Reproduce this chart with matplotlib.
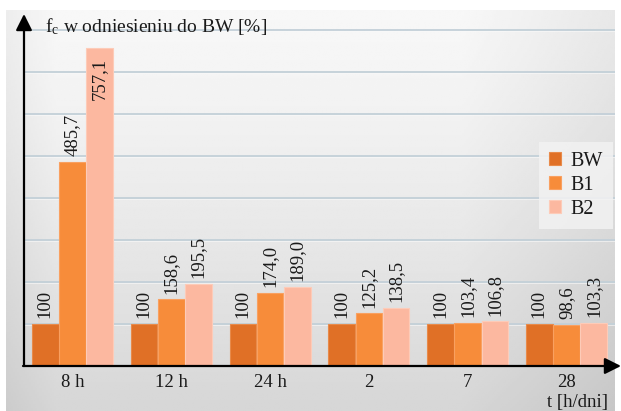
import numpy as np
import matplotlib.pyplot as plt

# fc relative to BW, per curing time
times = ["8 h", "12 h", "24 h", "2", "7", "28"]
bw = [100, 100, 100, 100, 100, 100]
b1 = [485.7, 158.6, 174.0, 125.2, 103.4, 98.6]
b2 = [757.1, 195.5, 189.0, 138.5, 106.8, 103.3]
series = ["BW", "B1", "B2"]
colors = ["#E07026", "#F78C3A", "#FCB8A0"]
edges = ["#E88A4A", "#F9A060", "#FDCBB8"]

plt.rcParams["font.family"] = "serif"
plt.rcParams["font.serif"] = ["Liberation Serif", "DejaVu Serif"]
plt.rcParams["mathtext.fontset"] = "custom"
plt.rcParams["mathtext.rm"] = "Liberation Serif"
plt.rcParams["mathtext.it"] = "Liberation Serif"
plt.rcParams["mathtext.default"] = "regular"

W, H = 621, 411
fig = plt.figure(figsize=(W / 100, H / 100), dpi=100)

# soft grey panel behind the chart
bg = fig.add_axes([6 / W, 0, 609 / W, 401 / H], zorder=0)
yy, xx = np.mgrid[0:1:200j, 0:1:300j]
shade = 0.97 - 0.13 * yy ** 1.3 - 0.06 * np.clip(xx - 0.75, 0, None) / 0.25 \
    - 0.04 * np.clip(0.08 - xx, 0, None) / 0.08
bg.imshow(shade, cmap="gray", vmin=0, vmax=1, aspect="auto",
          extent=[0, 1, 0, 1], origin="upper")
bg.axis("off")

ax = fig.add_axes([24 / W, 45 / H, 591 / W, 352 / H], zorder=1)
ax.patch.set_alpha(0)
ax.set_xlim(-0.49, 5.49)
ax.set_ylim(0, 838)

for v in range(100, 900, 100):
    ax.axhline(v, color="#C3D0D8", lw=1.3, zorder=1)
    ax.axhline(v - 2, color="#FAFAFA", lw=0.6, alpha=0.7, zorder=1)

x = np.arange(len(times))
w = 0.27
for i, (name, vals) in enumerate(zip(series, [bw, b1, b2])):
    pos = x + (i - 1) * 0.275
    ax.bar(pos, vals, width=w, color=colors[i], edgecolor=edges[i],
           linewidth=0.8, label=name, zorder=2)
    for p, v in zip(pos, vals):
        txt = f"{v:g}" if name == "BW" else f"{v:.1f}".replace(".", ",")
        # the tallest bar carries its label inside, below the top
        inside = v > 700
        ax.annotate(txt, (p, v), xytext=(0, -7 if inside else 4),
                    textcoords="offset points", rotation=90, ha="center",
                    va="top" if inside else "bottom", fontsize=13.5,
                    color="#1A1A1A", zorder=3)

for s in ax.spines.values():
    s.set_visible(False)
ax.set_yticks([])
ax.set_xticks(x)
ax.set_xticklabels(times, fontsize=13.5, color="#1A1A1A")
ax.tick_params(axis="x", length=0, pad=6)

# axes with arrow heads
arrow = dict(arrowstyle="-|>,head_length=0.7,head_width=0.35",
             color="black", lw=1.6, mutation_scale=14, shrinkA=0, shrinkB=0)
ax.annotate("", xy=(24, 397), xytext=(24, 45), xycoords="figure pixels",
            textcoords="figure pixels", arrowprops=arrow, zorder=5)
ax.annotate("", xy=(621, 45), xytext=(23, 45), xycoords="figure pixels",
            textcoords="figure pixels", arrowprops=arrow, zorder=5)

fig.text(45 / W, 1 - 32 / H, r"$f_c$ w odniesieniu do BW [%]",
         fontsize=14, va="baseline", ha="left", color="#1A1A1A")
fig.text(608 / W, 1 - 407 / H, "t [h/dni]", fontsize=13.5,
         va="baseline", ha="right", color="#1A1A1A")

leg = ax.legend(loc="upper right", bbox_to_anchor=(0.997, 0.637),
                borderaxespad=0, fontsize=14.5, frameon=True, fancybox=False,
                handlelength=0.6, handleheight=0.6, handletextpad=0.5,
                labelspacing=0.25, borderpad=0.5)
leg.get_frame().set_facecolor("#F2F2F2")
leg.get_frame().set_edgecolor("none")
leg.get_frame().set_alpha(0.85)
for t in leg.get_texts():
    t.set_color("#1A1A1A")

fig.savefig("out.png", dpi=100)
